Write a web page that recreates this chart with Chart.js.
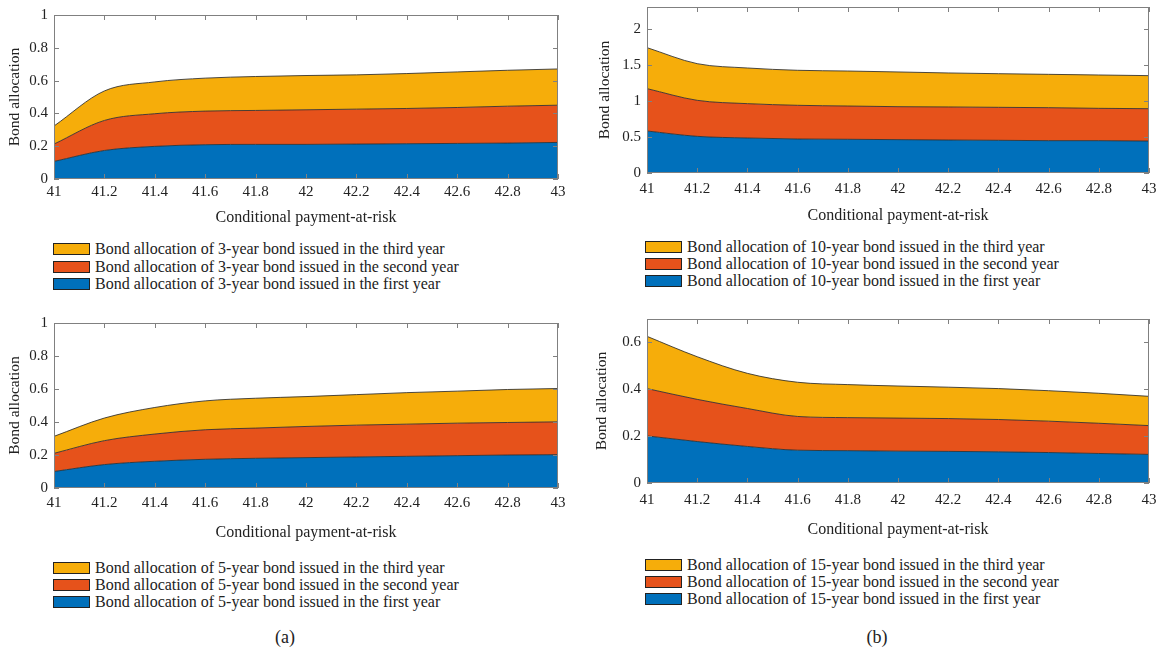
<!DOCTYPE html>
<html>
<head>
<meta charset="utf-8">
<script src="https://cdn.jsdelivr.net/npm/chart.js@4/dist/chart.umd.min.js"></script>
<style>
  body { margin: 0; background: #fff; width: 1165px; height: 648px; position: relative; overflow: hidden;
         font-family: "Liberation Serif", "DejaVu Serif", serif; color: #222; }
  .panel { position: absolute; }
  .legend { position: absolute; font-size: 16px; }
  .row { position: absolute; left: 0; white-space: nowrap; height: 18px; line-height: 18px; }
  .sw { position: absolute; left: 0; top: 3px; width: 35px; height: 10px; border: 1px solid #222; }
  .txt { position: absolute; left: 42px; top: 0; }
  .cap { position: absolute; font-size: 18px; transform: translate(-50%, -50%); }
</style>
</head>
<body>
<div class="panel" style="left:0;top:0"><canvas id="c3" width="580" height="230"></canvas></div>
<div class="panel" style="left:583px;top:0"><canvas id="c10" width="582" height="230"></canvas></div>
<div class="panel" style="left:0;top:300px"><canvas id="c5" width="580" height="250"></canvas></div>
<div class="panel" style="left:583px;top:300px"><canvas id="c15" width="582" height="250"></canvas></div>
<div class="cap" style="left:285px;top:637px">(a)</div>
<div class="cap" style="left:877px;top:637px">(b)</div>

<script>
// conditional payment-at-risk
const xValues = [41, 41.2, 41.4, 41.6, 41.8, 42, 42.2, 42.4, 42.6, 42.8, 43];
const xTicks = [41, 41.2, 41.4, 41.6, 41.8, 42, 42.2, 42.4, 42.6, 42.8, 43];

// 3-year bond
const bond3First  = [0.107, 0.174, 0.199, 0.209, 0.211, 0.211, 0.213, 0.215, 0.217, 0.219, 0.223];
const bond3Second = [0.106, 0.183, 0.199, 0.205, 0.207, 0.211, 0.213, 0.215, 0.219, 0.225, 0.227];
const bond3Third  = [0.110, 0.180, 0.194, 0.201, 0.207, 0.209, 0.209, 0.213, 0.217, 0.219, 0.221];
const yTicks3 = [0, 0.2, 0.4, 0.6, 0.8, 1];

// 10-year bond
const bond10First  = [0.582, 0.508, 0.485, 0.471, 0.467, 0.462, 0.457, 0.453, 0.448, 0.448, 0.443];
const bond10Second = [0.587, 0.499, 0.476, 0.467, 0.461, 0.457, 0.458, 0.457, 0.457, 0.448, 0.448];
const bond10Third  = [0.568, 0.508, 0.494, 0.485, 0.485, 0.481, 0.471, 0.466, 0.462, 0.462, 0.458];
const yTicks10 = [0, 0.5, 1, 1.5, 2];

// 5-year bond
const bond5First  = [0.100, 0.142, 0.162, 0.174, 0.180, 0.184, 0.188, 0.192, 0.196, 0.200, 0.202];
const bond5Second = [0.110, 0.145, 0.165, 0.179, 0.183, 0.189, 0.193, 0.195, 0.197, 0.197, 0.199];
const bond5Third  = [0.103, 0.137, 0.161, 0.175, 0.181, 0.181, 0.185, 0.191, 0.194, 0.200, 0.202];
const yTicks5 = [0, 0.2, 0.4, 0.6, 0.8, 1];

// 15-year bond
const bond15First  = [0.201, 0.177, 0.156, 0.140, 0.138, 0.136, 0.135, 0.133, 0.130, 0.126, 0.122];
const bond15Second = [0.202, 0.180, 0.162, 0.144, 0.141, 0.141, 0.140, 0.138, 0.134, 0.129, 0.123];
const bond15Third  = [0.223, 0.182, 0.150, 0.146, 0.141, 0.137, 0.134, 0.132, 0.130, 0.128, 0.125];
const yTicks15 = [0, 0.2, 0.4, 0.6];

const colors = ['#0070bb', '#e6521b', '#f6ad0a'];
const yearNames = ['first', 'second', 'third'];
const FONT = '"Liberation Serif", "DejaVu Serif", serif';

// MATLAB-style box with inward ticks on all four sides
const boxTicks = {
  id: 'boxTicks',
  afterDatasetsDraw(chart) {
    const { ctx, chartArea: a, scales: { x, y } } = chart;
    ctx.save();
    ctx.strokeStyle = '#808080';
    ctx.lineWidth = 1;
    ctx.strokeRect(Math.round(a.left) + 0.5, Math.round(a.top) + 0.5,
                   Math.round(a.right - a.left) - 1, Math.round(a.bottom - a.top) - 1);
    ctx.beginPath();
    x.ticks.forEach(t => {
      const px = Math.round(x.getPixelForValue(t.value)) + 0.5;
      ctx.moveTo(px, a.bottom); ctx.lineTo(px, a.bottom - 5);
      ctx.moveTo(px, a.top); ctx.lineTo(px, a.top + 5);
    });
    y.ticks.forEach(t => {
      const py = Math.round(y.getPixelForValue(t.value)) + 0.5;
      ctx.moveTo(a.left, py); ctx.lineTo(a.left + 5, py);
      ctx.moveTo(a.right, py); ctx.lineTo(a.right - 5, py);
    });
    ctx.stroke();
    ctx.restore();
  }
};

function makeChart(p) {
  const series = [p.first, p.second, p.third];
  const datasets = series.map((vals, i) => ({
    label: 'Bond allocation of ' + p.years + '-year bond issued in the ' + yearNames[i] + ' year',
    data: xValues.map((x, k) => ({ x: x, y: vals[k] })),
    backgroundColor: colors[i],
    borderColor: 'rgba(45,45,45,0.85)',
    borderWidth: 1,
    pointRadius: 0,
    cubicInterpolationMode: 'monotone',
    fill: i === 0 ? 'origin' : '-1'
  }));

  new Chart(document.getElementById(p.id), {
    type: 'line',
    data: { datasets },
    plugins: [boxTicks],
    options: {
      responsive: false,
      animation: false,
      events: [],
      layout: { padding: { top: p.padTop, right: p.padRight, left: 0, bottom: 0 } },
      plugins: { legend: { display: false }, tooltip: { enabled: false } },
      scales: {
        x: {
          type: 'linear', min: 41, max: 43,
          grid: { display: false, drawTicks: false },
          border: { display: false },
          afterBuildTicks: s => { s.ticks = xTicks.map(v => ({ value: v })); },
          afterFit: s => { s.height = p.xHeight; s.paddingLeft = 0; s.paddingRight = 0; },
          ticks: { padding: p.tickPad, color: '#222', font: { family: FONT, size: 15 },
                   maxRotation: 0, autoSkip: false, callback: v => String(v) },
          title: { display: true, text: 'Conditional payment-at-risk', color: '#222',
                   font: { family: FONT, size: 16 }, padding: { top: 0, bottom: p.titlePad } }
        },
        y: {
          stacked: true, min: 0, max: p.yMax,
          grid: { display: false, drawTicks: false },
          border: { display: false },
          afterBuildTicks: s => { s.ticks = p.yTicks.map(v => ({ value: v })); },
          afterFit: s => { s.width = p.yWidth; s.paddingTop = 0; s.paddingBottom = 0; },
          ticks: { padding: 6, color: '#222', font: { family: FONT, size: 15 }, callback: v => String(v) },
          title: { display: true, text: 'Bond allocation', color: '#222',
                   font: { family: FONT, size: 15.5 }, padding: { top: p.yTitlePad, bottom: 0 } }
        }
      }
    }
  });

  // legend below the chart, third year on top
  const lg = document.createElement('div');
  lg.className = 'legend';
  lg.style.left = p.legendLeft + 'px';
  lg.style.top = '0px';
  document.body.appendChild(lg);
  [2, 1, 0].forEach((i, r) => {
    const row = document.createElement('div');
    row.className = 'row';
    row.style.top = (p.legendRows[r] - 9) + 'px';
    row.innerHTML = '<span class="sw" style="background:' + colors[i] + '"></span><span class="txt">' +
      datasets[i].label + '</span>';
    lg.appendChild(row);
  });
}

makeChart({ id: 'c3', years: 3, first: bond3First, second: bond3Second, third: bond3Third,
  yMax: 1, yTicks: yTicks3, padTop: 15, padRight: 22, yWidth: 54, xHeight: 51,
  tickPad: 4.5, titlePad: 2.4, yTitlePad: 5.7, legendLeft: 53, legendRows: [249.3, 266.7, 284] });

makeChart({ id: 'c10', years: 10, first: bond10First, second: bond10Second, third: bond10Third,
  yMax: 2.3, yTicks: yTicks10, padTop: 7, padRight: 16, yWidth: 64, xHeight: 57,
  tickPad: 7, titlePad: 4.4, yTitlePad: 12.7, legendLeft: 645, legendRows: [246.7, 264, 281] });

makeChart({ id: 'c5', years: 5, first: bond5First, second: bond5Second, third: bond5Third,
  yMax: 1, yTicks: yTicks5, padTop: 23, padRight: 22, yWidth: 54, xHeight: 62,
  tickPad: 6.5, titlePad: 7.7, yTitlePad: 5.7, legendLeft: 53, legendRows: [568.3, 585.3, 602.3] });

makeChart({ id: 'c15', years: 15, first: bond15First, second: bond15Second, third: bond15Third,
  yMax: 0.7, yTicks: yTicks15, padTop: 19, padRight: 16, yWidth: 64, xHeight: 67,
  tickPad: 8.5, titlePad: 10.4, yTitlePad: 9.7, legendLeft: 645, legendRows: [565, 582.3, 599] });
</script>
</body>
</html>
